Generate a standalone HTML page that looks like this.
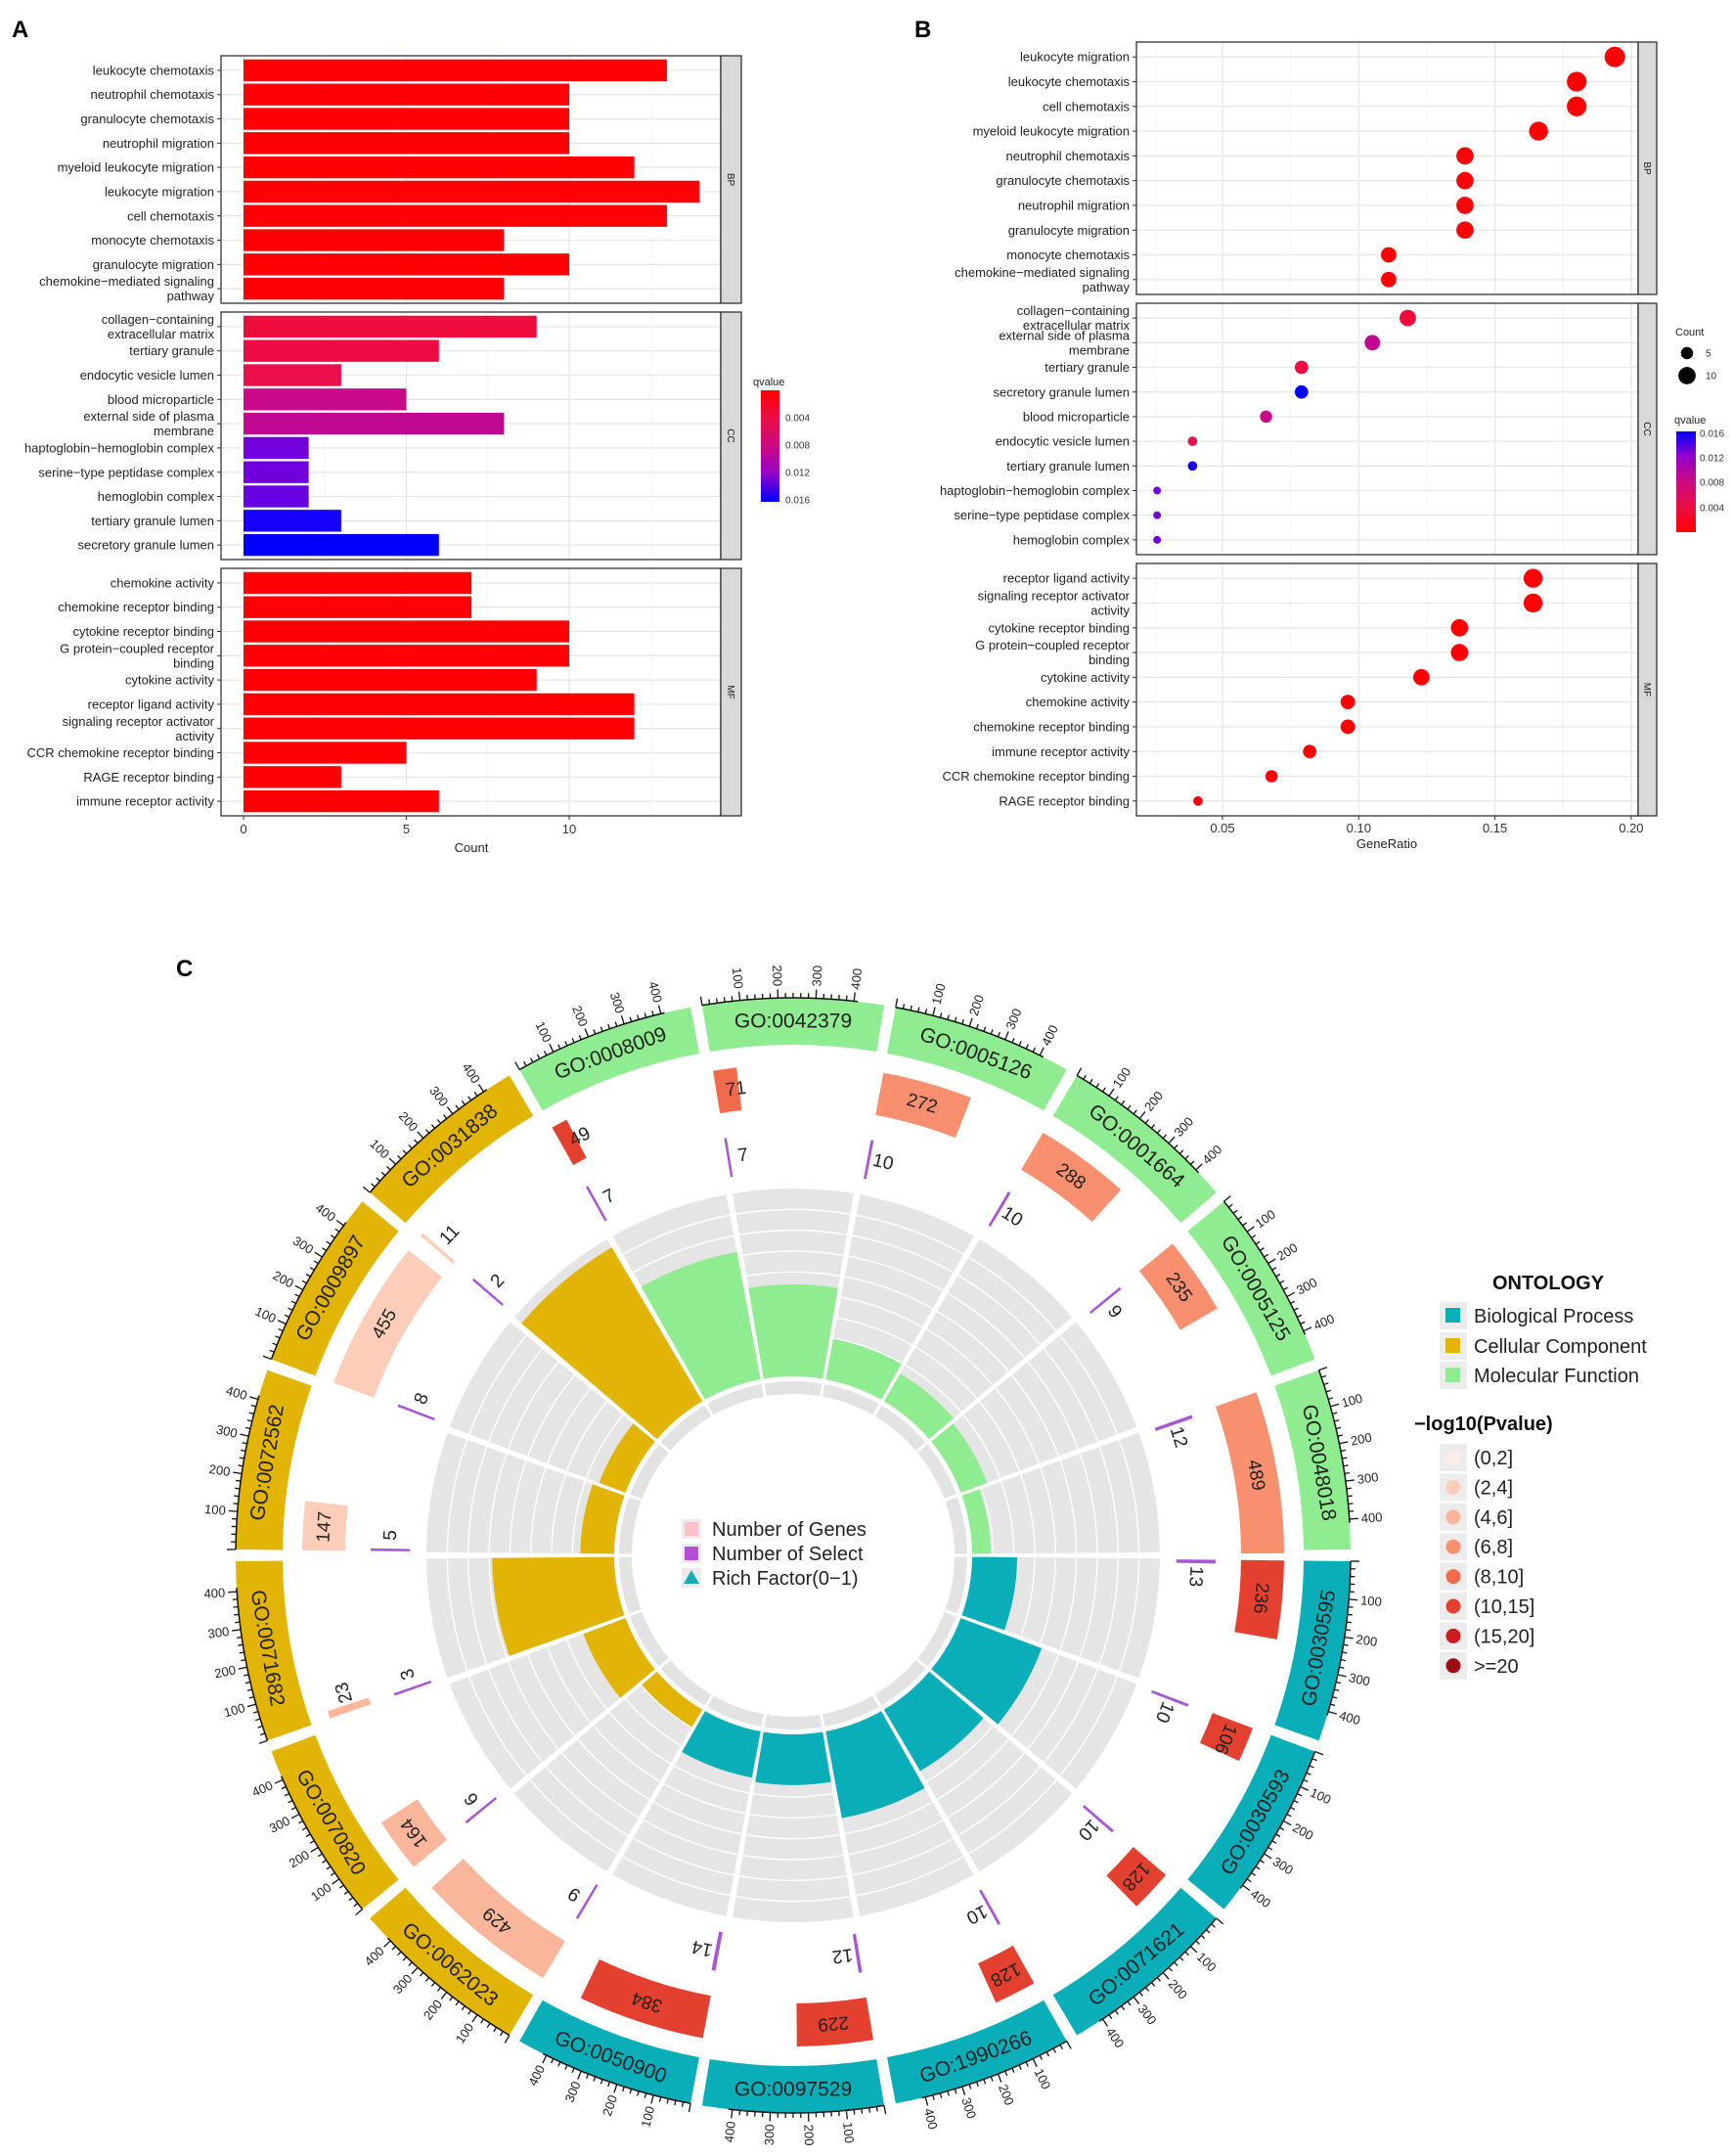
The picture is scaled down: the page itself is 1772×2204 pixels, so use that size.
<!DOCTYPE html>
<html><head><meta charset="utf-8"><style>
html,body{margin:0;padding:0;background:#fff;}
svg{display:block;font-family:"Liberation Sans",Arial,sans-serif;}
</style></head><body>
<svg id="fig" xmlns="http://www.w3.org/2000/svg" width="1772" height="2204" viewBox="0 0 1772 2204">
<rect x="0" y="0" width="1772" height="2204" fill="#fff"/>
<text x="12" y="38" font-size="24" font-weight="bold">A</text>
<text x="935" y="38" font-size="24" font-weight="bold">B</text>
<text x="180" y="998" font-size="24" font-weight="bold">C</text>
</svg>
<script>
// ---------- Panel A / B data ----------
const aBPLabels=["leukocyte chemotaxis","neutrophil chemotaxis","granulocyte chemotaxis","neutrophil migration","myeloid leukocyte migration","leukocyte migration","cell chemotaxis","monocyte chemotaxis","granulocyte migration","chemokine−mediated signaling\npathway"];
const aBPCounts=[13,10,10,10,12,14,13,8,10,8];
const aBPQ=[0.0003,0.0003,0.0003,0.0003,0.0003,0.0003,0.0003,0.0003,0.0003,0.0003];
const aCCLabels=["collagen−containing\nextracellular matrix","tertiary granule","endocytic vesicle lumen","blood microparticle","external side of plasma\nmembrane","haptoglobin−hemoglobin complex","serine−type peptidase complex","hemoglobin complex","tertiary granule lumen","secretory granule lumen"];
const aCCCounts=[9,6,3,5,8,2,2,2,3,6];
const aCCQ=[0.0035,0.0040,0.0045,0.0085,0.0092,0.0135,0.0136,0.0138,0.0158,0.0163];
const aMFLabels=["chemokine activity","chemokine receptor binding","cytokine receptor binding","G protein−coupled receptor\nbinding","cytokine activity","receptor ligand activity","signaling receptor activator\nactivity","CCR chemokine receptor binding","RAGE receptor binding","immune receptor activity"];
const aMFCounts=[7,7,10,10,9,12,12,5,3,6];
const aMFQ=[0.0003,0.0003,0.0003,0.0003,0.0003,0.0003,0.0003,0.0003,0.0003,0.0003];
const aXTicks=[0,5,10];

const bBPLabels=["leukocyte migration","leukocyte chemotaxis","cell chemotaxis","myeloid leukocyte migration","neutrophil chemotaxis","granulocyte chemotaxis","neutrophil migration","granulocyte migration","monocyte chemotaxis","chemokine−mediated signaling\npathway"];
const bBPRatio=[0.194,0.180,0.180,0.166,0.139,0.139,0.139,0.139,0.111,0.111];
const bBPCounts=[14,13,13,12,10,10,10,10,8,8];
const bBPQ=[0.0003,0.0003,0.0003,0.0003,0.0003,0.0003,0.0003,0.0003,0.0003,0.0003];
const bCCLabels=["collagen−containing\nextracellular matrix","external side of plasma\nmembrane","tertiary granule","secretory granule lumen","blood microparticle","endocytic vesicle lumen","tertiary granule lumen","haptoglobin−hemoglobin complex","serine−type peptidase complex","hemoglobin complex"];
const bCCRatio=[0.118,0.105,0.079,0.079,0.066,0.039,0.039,0.026,0.026,0.026];
const bCCCounts=[9,8,6,6,5,3,3,2,2,2];
const bCCQ=[0.0035,0.0092,0.0040,0.0163,0.0085,0.0045,0.0158,0.0135,0.0136,0.0138];
const bMFLabels=["receptor ligand activity","signaling receptor activator\nactivity","cytokine receptor binding","G protein−coupled receptor\nbinding","cytokine activity","chemokine activity","chemokine receptor binding","immune receptor activity","CCR chemokine receptor binding","RAGE receptor binding"];
const bMFRatio=[0.164,0.164,0.137,0.137,0.123,0.096,0.096,0.082,0.068,0.041];
const bMFCounts=[12,12,10,10,9,7,7,6,5,3];
const bMFQ=[0.0003,0.0003,0.0003,0.0003,0.0003,0.0003,0.0003,0.0003,0.0003,0.0003];
const bXTicks=[0.05,0.10,0.15,0.20];

// ---------- Panel C data (clockwise from top) ----------
const cTerms=["GO:0042379","GO:0005126","GO:0001664","GO:0005125","GO:0048018","GO:0030595","GO:0030593","GO:0071621","GO:1990266","GO:0097529","GO:0050900","GO:0062023","GO:0070820","GO:0071682","GO:0072562","GO:0009897","GO:0031838","GO:0008009"];
const cOnto=["MF","MF","MF","MF","MF","BP","BP","BP","BP","BP","BP","CC","CC","CC","CC","CC","CC","MF"];
const cGenes=[71,272,288,235,489,236,106,128,128,229,384,429,164,23,147,455,11,49];
const cSelect=[7,10,10,9,12,13,10,10,10,12,14,9,6,3,5,8,2,7];
const cPcat=[4,3,3,3,3,5,5,5,5,5,5,2,2,2,1,1,1,5];
const cRich=[0.49,0.22,0.17,0.15,0.10,0.24,0.46,0.38,0.47,0.27,0.25,0.11,0.24,0.65,0.18,0.15,0.95,0.69];
const cAxisTicks=[100,200,300,400];
const cPLegend=["(0,2]","(2,4]","(4,6]","(6,8]","(8,10]","(10,15]","(15,20]",">=20"];

// ---------- helpers ----------
const NS='http://www.w3.org/2000/svg';
const svg=document.getElementById('fig');
function mk(tag,attrs,parent){const e=document.createElementNS(NS,tag);for(const k in attrs)e.setAttribute(k,attrs[k]);(parent||svg).appendChild(e);return e;}
function lerp(a,b,t){return Math.round(a+(b-a)*t);}
function hex(c){return [parseInt(c.slice(1,3),16),parseInt(c.slice(3,5),16),parseInt(c.slice(5,7),16)];}
const qStops=[[0,'#ff0000'],[0.3,'#e80f52'],[0.55,'#c4098f'],[0.8,'#8800d8'],[1,'#0000ff']];
function qColor(q){let t=Math.max(0,Math.min(1,q/0.0163));for(let i=0;i<qStops.length-1;i++){const[a,ca]=qStops[i],[b,cb]=qStops[i+1];if(t<=b){const u=(t-a)/(b-a);const A=hex(ca),B=hex(cb);return `rgb(${lerp(A[0],B[0],u)},${lerp(A[1],B[1],u)},${lerp(A[2],B[2],u)})`;}}return '#0000ff';}
function label(x,y,str,size,parent){const lines=str.split('\n');const g=[];lines.forEach((ln,k)=>{const t=mk('text',{x:x,y:y+(k-(lines.length-1)/2)*15+size*0.35,'font-size':size,'text-anchor':'end',fill:'#222'},parent);t.textContent=ln;g.push(t);});return g;}

// ---------- Panel A ----------
const gA=mk('g',{});


const xA=v=>249+v*33.3;
const facetsA=[['BP',57,310,aBPLabels,aBPCounts,aBPQ],['CC',319,572,aCCLabels,aCCCounts,aCCQ],['MF',581,834,aMFLabels,aMFCounts,aMFQ]];
facetsA.forEach(([key,top,bot,labs,vals,qs])=>{
  const step=(bot-top)/10.2;
  const bg=mk('rect',{x:226,y:top,width:511,height:bot-top,fill:'#fff'},gA);
  
  
  [2.5,7.5,12.5].forEach(v=>mk('line',{x1:xA(v),x2:xA(v),y1:top,y2:bot,stroke:'#f4f4f4','stroke-width':1},gA));
  aXTicks.forEach(v=>mk('line',{x1:xA(v),x2:xA(v),y1:top,y2:bot,stroke:'#e6e6e6','stroke-width':1.3},gA));
  labs.forEach((lab,i)=>{
    const y=top+(0.6+i)*step;
    mk('line',{x1:226,x2:737,y1:y,y2:y,stroke:'#e6e6e6','stroke-width':1.3},gA);
    const r=mk('rect',{x:xA(0),y:y-step*0.45,width:xA(vals[i])-xA(0),height:step*0.9,fill:qColor(qs[i])},gA);
    
    
    mk('line',{x1:222,x2:226,y1:y,y2:y,stroke:'#333','stroke-width':1},gA);
    const ts=label(219,y,lab,13,gA);
    ts.forEach(t=>{});
  });
  mk('rect',{x:226,y:top,width:511,height:bot-top,fill:'none',stroke:'#333','stroke-width':1.3},gA);
  const st=mk('rect',{x:737,y:top,width:21,height:bot-top,fill:'#d9d9d9',stroke:'#333','stroke-width':1.3},gA);
  
  
  const sty=(top+bot)/2;
  const stt=mk('text',{x:0,y:0,transform:`translate(744,${sty}) rotate(90)`,'font-size':10,'text-anchor':'middle',fill:'#1a1a1a'},gA);
  stt.textContent=key;
  
  
});
aXTicks.forEach(v=>{
  mk('line',{x1:xA(v),x2:xA(v),y1:834,y2:838,stroke:'#333'},gA);
  const t=mk('text',{x:xA(v),y:852,'font-size':13,'text-anchor':'middle',fill:'#333'},gA);
  t.textContent=v;
  
  
});
const xtA=mk('text',{x:482,y:871,'font-size':13,'text-anchor':'middle',fill:'#222'},gA);
xtA.textContent='Count';


// legend A
const defs=mk('defs',{});
const lgA=mk('linearGradient',{id:'qa',x1:0,y1:0,x2:0,y2:1},defs);
const lgB=mk('linearGradient',{id:'qb',x1:0,y1:1,x2:0,y2:0},defs);
[0,0.25,0.5,0.75,1].forEach(t=>{mk('stop',{offset:t,'stop-color':qColor(t*0.0163)},lgA);mk('stop',{offset:t,'stop-color':qColor(t*0.0163)},lgB);});
const lqa=mk('text',{x:770,y:394,'font-size':11,fill:'#222'},gA);
lqa.textContent='qvalue';


const cba=mk('rect',{x:778,y:399,width:19,height:114,fill:'url(#qa)'},gA);


[['0.004',427],['0.008',455],['0.012',483],['0.016',511]].forEach(([s,y])=>{
  const t=mk('text',{x:803,y:y+3.5,'font-size':10,fill:'#333'},gA);
  t.textContent=s;
  
  
});

// ---------- Panel B ----------
const gB=mk('g',{});


const xB=v=>1250+(v-0.05)*2786;
const rB=c=>2.8*Math.sqrt(c);
const facetsB=[['BP',43,301,bBPLabels,bBPRatio,bBPCounts,bBPQ],['CC',310,567,bCCLabels,bCCRatio,bCCCounts,bCCQ],['MF',576,834,bMFLabels,bMFRatio,bMFCounts,bMFQ]];
facetsB.forEach(([key,top,bot,labs,rat,cnt,qs])=>{
  const step=(bot-top)/10.2;
  mk('rect',{x:1162,y:top,width:513,height:bot-top,fill:'#fff'},gB);
  [0.025,0.075,0.125,0.175].forEach(v=>mk('line',{x1:xB(v),x2:xB(v),y1:top,y2:bot,stroke:'#f4f4f4','stroke-width':1},gB));
  bXTicks.forEach(v=>mk('line',{x1:xB(v),x2:xB(v),y1:top,y2:bot,stroke:'#e6e6e6','stroke-width':1.3},gB));
  labs.forEach((lab,i)=>{
    const y=top+(0.6+i)*step;
    mk('line',{x1:1162,x2:1675,y1:y,y2:y,stroke:'#e6e6e6','stroke-width':1.3},gB);
    mk('line',{x1:1158,x2:1162,y1:y,y2:y,stroke:'#333'},gB);
    const ts=label(1155,y,lab,13,gB);
    ts.forEach(t=>{});
  });
  labs.forEach((lab,i)=>{
    const y=top+(0.6+i)*step;
    const c=mk('circle',{cx:xB(rat[i]),cy:y,r:rB(cnt[i]),fill:qColor(qs[i])},gB);
    
    
  });
  mk('rect',{x:1162,y:top,width:513,height:bot-top,fill:'none',stroke:'#333','stroke-width':1.3},gB);
  const st=mk('rect',{x:1675,y:top,width:19,height:bot-top,fill:'#d9d9d9',stroke:'#333','stroke-width':1.3},gB);
  
  
  const stt=mk('text',{x:0,y:0,transform:`translate(1681,${(top+bot)/2}) rotate(90)`,'font-size':10,'text-anchor':'middle',fill:'#1a1a1a'},gB);
  stt.textContent=key;
  
  
});
bXTicks.forEach(v=>{
  mk('line',{x1:xB(v),x2:xB(v),y1:834,y2:838,stroke:'#333'},gB);
  const t=mk('text',{x:xB(v),y:851,'font-size':13,'text-anchor':'middle',fill:'#333'},gB);
  t.textContent=v.toFixed(2);
  
  
});
const xtB=mk('text',{x:1418,y:867,'font-size':13,'text-anchor':'middle',fill:'#222'},gB);
xtB.textContent='GeneRatio';


const lcb=mk('text',{x:1713,y:343,'font-size':11,fill:'#222'},gB);
lcb.textContent='Count';


[[5,361],[10,384]].forEach(([c,y])=>{
  const d=mk('circle',{cx:1725,cy:y,r:rB(c),fill:'#000'},gB);
  
  
  const t=mk('text',{x:1744,y:y+3.5,'font-size':10,fill:'#333'},gB);
  t.textContent=c;
  
  
});
const lqb=mk('text',{x:1712,y:433,'font-size':11,fill:'#222'},gB);
lqb.textContent='qvalue';


const cbb=mk('rect',{x:1714,y:441,width:20,height:103,fill:'url(#qb)'},gB);


[['0.016',443],['0.012',468],['0.008',493],['0.004',519]].forEach(([s,y])=>{
  const t=mk('text',{x:1738,y:y+3.5,'font-size':10,fill:'#333'},gB);
  t.textContent=s;
  
  
});

// ---------- Panel C ----------
const gC=mk('g',{});


const cx=811,cy=1590;
const ontoColor={BP:'#0aaeb9',CC:'#e2b406',MF:'#90ec90'};
const pPal=['#fbeee8','#fccdb8','#fab69b','#f88f6f','#f26a4c','#e4402f','#cc1a1f','#9b0d14'];
const AXMAX=480;
function P(a,r){const t=a*Math.PI/180;return[cx+r*Math.sin(t),cy-r*Math.cos(t)];}
function sector(a0,a1,r0,r1){const p1=P(a0,r1),p2=P(a1,r1),p3=P(a1,r0),p4=P(a0,r0);const L=(a1-a0)>180?1:0;return `M${p1[0]},${p1[1]}A${r1},${r1} 0 ${L} 1 ${p2[0]},${p2[1]}L${p3[0]},${p3[1]}A${r0},${r0} 0 ${L} 0 ${p4[0]},${p4[1]}Z`;}
function ctext(a,r,str,size,rot,parent,anchor){const p=P(a,r);const t=mk('text',{x:0,y:0,transform:`translate(${p[0].toFixed(1)},${p[1].toFixed(1)}) rotate(${rot})`,'font-size':size,'text-anchor':anchor||'middle','dominant-baseline':'central',fill:'#222'},parent);t.textContent=str;return t;}
cTerms.forEach((term,i)=>{
  const s0=-10+20*i+0.6, s1=10+20*i-0.6, span=s1-s0;
  const aOf=v=>s0+v/AXMAX*span;
  const mid=(s0+s1)/2;
  // outer band
  const band=mk('path',{d:sector(s0,s1,522,570),fill:ontoColor[cOnto[i]]},gC);
  
  
  let nm=((mid%360)+360)%360;
  const rot=(nm>90&&nm<270)?mid+180:mid;
  const bt=ctext(mid,546,term,21,rot,gC);
  
  
  // axis
  const b0=P(aOf(0),570),b1=P(aOf(410),570);
  mk('path',{d:`M${b0[0]},${b0[1]}A570,570 0 0 1 ${b1[0]},${b1[1]}`,fill:'none',stroke:'#111','stroke-width':1.5},gC);
  for(let v=0;v<=400;v+=20){const major=v%100===0;const p0=P(aOf(v),570),p1=P(aOf(v),major?579:575);mk('line',{x1:p0[0],y1:p0[1],x2:p1[0],y2:p1[1],stroke:'#111','stroke-width':1.3},gC);}
  cAxisTicks.forEach(v=>{
    const a=aOf(v);let na=((a%360)+360)%360;
    const right=na<180;
    const t=ctext(a,582,String(v),13,right?a-90:a+90,gC,right?'start':'end');
    
    
  });
  // genes bar
  const ge=aOf(cGenes[i]);
  const gb=mk('path',{d:sector(s0,ge,458,502),fill:pPal[cPcat[i]]},gC);
  
  
  const gla=s0+Math.max((ge-s0)/2,2.4);
  const gl=ctext(gla,480,String(cGenes[i]),19,gla,gC);
  
  
  // select bar
  const se=Math.max(aOf(cSelect[i]),s0+0.35);
  const sb=mk('path',{d:sector(s0,se,392,432),fill:'#a855d8'},gC);
  
  
  const sla=se+1.9;
  const sl=ctext(sla,412,String(cSelect[i]),19,sla,gC);
  
  
  // rich factor track
  const r0=183,r1=375;
  mk('path',{d:sector(s0-0.1,s1+0.1,r0,r1),fill:'#e5e5e5'},gC);
  const rb=mk('path',{d:sector(s0-0.1,s1+0.1,r0,r0+cRich[i]*(r1-r0)),fill:ontoColor[cOnto[i]]},gC);
  
  
  for(let k=1;k<9;k++){const rr=r0+k*(r1-r0)/9;if(rr<r0+cRich[i]*(r1-r0))continue;const q0=P(s0-0.1,rr),q1=P(s1+0.1,rr);mk('path',{d:`M${q0[0]},${q0[1]}A${rr},${rr} 0 0 1 ${q1[0]},${q1[1]}`,fill:'none',stroke:'#fff','stroke-width':1.4},gC);}
  mk('path',{d:sector(s0-0.1,s1+0.1,165,178),fill:'#e3e3e3'},gC);
});
// center legend
const cl=[['Number of Genes','#ffc0cb','rect'],['Number of Select','#b44fd6','rect'],['Rich Factor(0−1)','#1aa9b5','tri']];
cl.forEach(([s,c,shape],k)=>{
  const y=1563+k*25;
  mk('rect',{x:697,y:y-10,width:20,height:20,fill:'#ececec'},gC);
  let m;
  if(shape==='rect'){m=mk('rect',{x:700,y:y-7,width:14,height:14,fill:c},gC);}
  else{m=mk('polygon',{points:`${707},${y-8} ${715},${y+6} ${699},${y+6}`,fill:c},gC);}
  
  
  const t=mk('text',{x:728,y:y+7,'font-size':20,fill:'#222'},gC);
  t.textContent=s;
  
  
});
// right legend
const ot=mk('text',{x:1583,y:1318,'font-size':20,'font-weight':'bold','text-anchor':'middle',fill:'#111'},gC);
ot.textContent='ONTOLOGY';


[['Biological Process','BP',1345],['Cellular Component','CC',1376],['Molecular Function','MF',1406]].forEach(([s,k,y])=>{
  mk('rect',{x:1472,y:y-14,width:28,height:28,fill:'#ececec'},gC);
  const m=mk('rect',{x:1478,y:y-8,width:15,height:15,fill:ontoColor[k]},gC);
  
  
  const t=mk('text',{x:1507,y:y+7,'font-size':20,fill:'#222'},gC);
  t.textContent=s;
  
  
});
const pt=mk('text',{x:1446,y:1462,'font-size':20,'font-weight':'bold',fill:'#111'},gC);
pt.textContent='−log10(Pvalue)';


cPLegend.forEach((s,k)=>{
  const y=1490+k*30.4;
  mk('rect',{x:1472,y:y-14,width:28,height:28,fill:'#ececec'},gC);
  const m=mk('circle',{cx:1486,cy:y,r:7.5,fill:pPal[k]},gC);
  
  
  const t=mk('text',{x:1507,y:y+7,'font-size':20,fill:'#222'},gC);
  t.textContent=s;
  
  
});
</script>
</body></html>
